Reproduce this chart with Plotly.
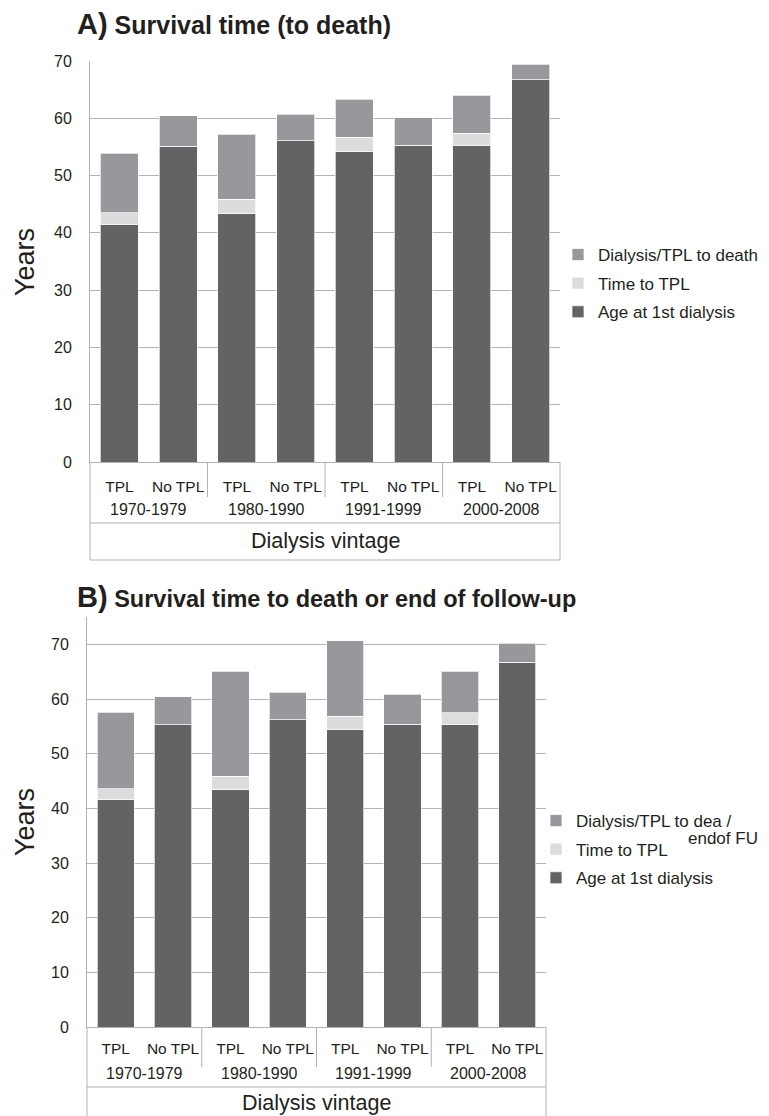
import plotly.graph_objects as go

# figure size in px, margins are zero so paper coords map straight to pixels
W, H = 769, 1116
OFF = 8  # page body margin

groups = ["TPL", "No TPL", "TPL", "No TPL", "TPL", "No TPL", "TPL", "No TPL"]
vintages = ["1970-1979", "1980-1990", "1991-1999", "2000-2008"]

# panel A: survival time (to death), years
age_a = [41.5, 55.1, 43.3, 56.1, 54.2, 55.3, 55.3, 66.7]
tpl_a = [2.0, None, 2.6, None, 2.5, None, 2.1, None]
death_a = [10.4, 5.3, 11.3, 4.6, 6.6, 4.8, 6.6, 2.7]

# panel B: survival time to death or end of follow-up, years
age_b = [41.6, 55.3, 43.4, 56.2, 54.4, 55.4, 55.4, 66.7]
tpl_b = [2.0, None, 2.5, None, 2.4, None, 2.1, None]
death_b = [14.0, 5.1, 19.2, 5.0, 13.9, 5.5, 7.6, 3.5]

DARK = "#636365"
LIGHT = "#dcdcde"
MID = "#97989b"
GRID = "#b3b3b3"
INK = "#231f20"
FONT = "Arial, Liberation Sans, sans-serif"


def px(v):
    return (v - OFF) / W


def py(v):
    return 1 - (v - OFF) / H


def f(size):
    return dict(family=FONT, size=size, color=INK)


xs = list(range(len(groups)))
fig = go.Figure()

panels = [
    ("x", "y", "legend", age_a, tpl_a, death_a, "Dialysis/TPL to death"),
    ("x2", "y2", "legend2", age_b, tpl_b, death_b, "Dialysis/TPL to dea /"),
]
for xa, ya, leg, age, tpl, death, death_name in panels:
    for rank, name, vals, col in [(3, "Age at 1st dialysis", age, DARK),
                                  (2, "Time to TPL", tpl, LIGHT),
                                  (1, death_name, death, MID)]:
        fig.add_trace(go.Bar(
            x=xs, y=vals, name=name, marker_color=col,
            marker_line=dict(color="rgba(255,255,255,0.7)", width=1),
            xaxis=xa, yaxis=ya, legend=leg, legendgroup=leg + str(rank), legendrank=rank,
        ))

axis_x = dict(range=[-0.5, 7.5], tickvals=xs, ticktext=groups, showgrid=False,
              showline=True, linecolor=GRID, linewidth=1, ticks="", zeroline=False,
              tickfont=f(15.5), automargin=False)
axis_y = dict(tickvals=[0, 10, 20, 30, 40, 50, 60, 70], showgrid=True, gridcolor=GRID,
              gridwidth=1, showline=True, linecolor=GRID, linewidth=1, ticks="",
              zeroline=False, tickfont=f(16), ticklabelstandoff=14, automargin=False)

fig.update_layout(
    width=W, height=H, margin=dict(l=0, r=0, t=0, b=0, pad=0),
    paper_bgcolor="white", plot_bgcolor="white",
    barmode="stack", bargap=0.35,
    font=f(15),
    xaxis=dict(axis_x, domain=[px(90), px(560)], anchor="y", ticklabelstandoff=10),
    yaxis=dict(axis_y, domain=[py(462), py(61)], range=[0, 70], anchor="x"),
    xaxis2=dict(axis_x, domain=[px(87), px(546)], anchor="y2", ticklabelstandoff=7),
    yaxis2=dict(axis_y, domain=[py(1027), py(617)], range=[0, 75], anchor="x2"),
    legend=dict(x=px(558), y=py(237), xanchor="left", yanchor="top",
                traceorder="grouped", tracegroupgap=3.5,
                font=f(17), bgcolor="rgba(0,0,0,0)"),
    legend2=dict(x=px(536), y=py(803), xanchor="left", yanchor="top",
                 traceorder="grouped", tracegroupgap=3.5,
                 font=f(17), bgcolor="rgba(0,0,0,0)"),
)

# boxes and dividers under the category axis
shapes = []
boxes = [("x", 462, 497, 523, 560, True, 541), ("x2", 1027, 1067, 1087, 1116, False, 1103)]
ann = []
for xa, y0, ysep, ymid, ybot, closed, ylab in boxes:
    dom = xa + " domain"
    line = dict(color=GRID, width=1)
    yend = ybot if closed else ybot + 10
    shapes.append(dict(type="line", xref=dom, yref="paper", x0=0, x1=0, y0=py(y0), y1=py(yend), line=line))
    shapes.append(dict(type="line", xref=dom, yref="paper", x0=1, x1=1, y0=py(y0), y1=py(yend), line=line))
    shapes.append(dict(type="line", xref=dom, yref="paper", x0=0, x1=1, y0=py(ymid), y1=py(ymid), line=line))
    if closed:
        shapes.append(dict(type="line", xref=dom, yref="paper", x0=0, x1=1, y0=py(ybot), y1=py(ybot), line=line))
    for g in range(1, len(vintages)):
        xv = 2 * g - 0.5
        shapes.append(dict(type="line", xref=xa, yref="paper", x0=xv, x1=xv, y0=py(y0), y1=py(ysep), line=line))
    for g, v in enumerate(vintages):
        ann.append(dict(x=2 * g + 0.5, xref=xa, y=py(ymid - 14), yref="paper",
                        text=v, showarrow=False, font=f(16),
                        xanchor="center", yanchor="middle"))
    ann.append(dict(x=0.5, xref=dom, y=py(ylab), yref="paper", text="Dialysis vintage",
                    showarrow=False, font=f(21.5), xanchor="center", yanchor="middle"))

# titles and y-axis labels
ann.append(dict(x=px(75), y=py(24), xref="paper", yref="paper", xanchor="left", yanchor="middle",
                text="<b><span style='font-size:29px'>A)</span> Survival time (to death)</b>",
                showarrow=False, font=f(25)))
ann.append(dict(x=px(75), y=py(597), xref="paper", yref="paper", xanchor="left", yanchor="middle",
                text="<b><span style='font-size:29px'>B)</span> Survival time to death or end of follow-up</b>",
                showarrow=False, font=f(23.5)))
for yc in (262, 822):
    ann.append(dict(x=px(25), y=py(yc), xref="paper", yref="paper", text="Years", textangle=-90,
                    showarrow=False, font=f(27), xanchor="center", yanchor="middle"))
ann.append(dict(x=px(686), y=py(838), xref="paper", yref="paper", text="endof FU", xanchor="left",
                yanchor="middle", showarrow=False, font=f(17)))

fig.update_layout(shapes=shapes, annotations=ann)
fig.write_html("out.html")
